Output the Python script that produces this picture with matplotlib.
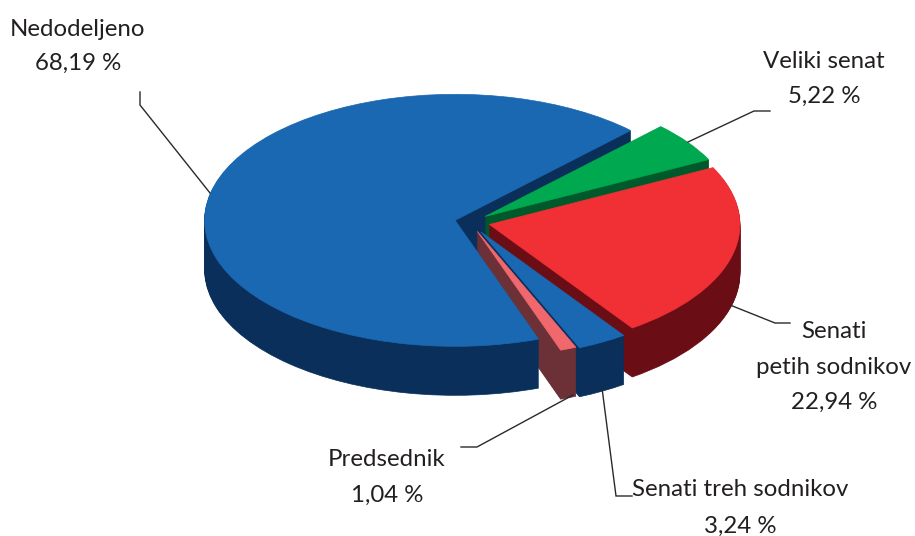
import matplotlib
matplotlib.use("Agg")
import matplotlib.pyplot as plt

plt.rcParams['font.family'] = ['Lato', 'DejaVu Sans']

# data
names = ["Nedodeljeno", "Predsednik", "Senati treh sodnikov", "Senati\npetih sodnikov", "Veliki senat"]
values = [68.19, 1.04, 3.24, 22.94, 5.22]
value_labels = ["68,19 %", "1,04 %", "3,24 %", "22,94 %", "5,22 %"]

# style
top_colors = ["#1a68b2", "#f0686d", "#1a68b2", "#f03034", "#00a84f"]
side_colors = ["#0a2f5a", "#6c3037", "#0a2f5a", "#6b0d15", "#00592b"]
explode = [0.061, 0.08, 0.09, 0.08, 0.075]
start_angle = 45.5
depth_px = 49
rx, ry = 250.5, 126.0
cx, cy = 470.0, 222.0

fig = plt.figure(figsize=(9.15, 5.36), dpi=100)
ax = fig.add_axes([0, 0, 1, 1])

# extruded pie: stack of darker pies, top one last
for d in range(depth_px, -1, -1):
    cols = top_colors if d == 0 else side_colors
    wedges, _ = ax.pie(values, explode=explode, startangle=start_angle, colors=cols,
                       center=(0, -d/ry))
    for w, c in zip(wedges, cols):
        w.set_edgecolor(c)
        w.set_linewidth(0.5)

ax.set_aspect("auto")
ax.set_xlim(-cx/rx, (915-cx)/rx)
ax.set_ylim((cy-536)/ry, cy/ry)
ax.axis("off")

# overlay in pixels for the labels and leader lines
ov = fig.add_axes([0, 0, 1, 1], facecolor="none")
ov.set_xlim(0, 915)
ov.set_ylim(536, 0)
ov.axis("off")

leaders = [
    ([140, 140, 210], [92, 105, 193]),
    ([461, 477, 573], [447, 447, 395]),
    ([602, 616, 632], [388, 496, 496]),
    ([730, 775, 790], [305, 323, 323]),
    ([770, 754, 688], [111, 111, 142]),
]
for xs, ys in leaders:
    ov.plot(xs, ys, color="#2a2a2a", lw=1.0, solid_joinstyle="miter")

text_pos = [(78, 29, 63), (387, 459, 495), (740, 489, 526), (834, 332, 402), (824, 61, 96)]
for name, val, (x, y1, y2) in zip(names, value_labels, text_pos):
    parts = name.split("\n")
    for i, p in enumerate(parts):
        ov.text(x, y1 + i*36, p, ha="center", va="center", fontsize=17.3, color="#231f20")
    ov.text(x, y2, val, ha="center", va="center", fontsize=17.3, color="#231f20")

fig.savefig("out.png", dpi=100)
